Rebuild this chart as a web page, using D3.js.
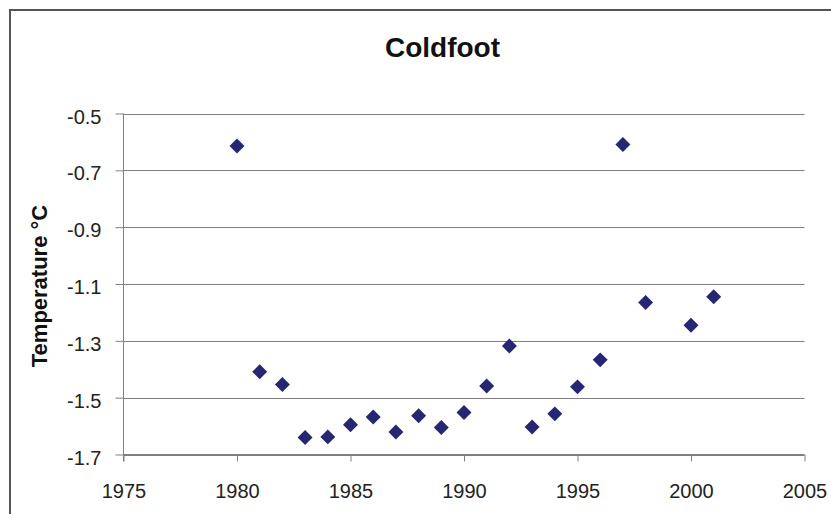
<!DOCTYPE html>
<html>
<head>
<meta charset="utf-8">
<script src="https://cdn.jsdelivr.net/npm/d3@7/dist/d3.min.js"></script>
<style>
  html, body { margin: 0; padding: 0; background: #fff; }
  svg { display: block; font-family: "Liberation Sans", Arial, sans-serif; }
</style>
</head>
<body>
<svg id="chart" width="831" height="514"></svg>
<script>
// Coldfoot annual mean temperature (°C)
const years = [1980, 1981, 1982, 1983, 1984, 1985, 1986, 1987, 1988, 1989, 1990,
               1991, 1992, 1993, 1994, 1995, 1996, 1997, 1998, 2000, 2001];
const temps = [-0.614, -1.409, -1.454, -1.640, -1.638, -1.595, -1.568, -1.621, -1.564, -1.605, -1.552,
               -1.459, -1.318, -1.603, -1.557, -1.462, -1.367, -0.609, -1.165, -1.245, -1.145];
const xTicks = [1975, 1980, 1985, 1990, 1995, 2000, 2005];
const yTicks = [-0.5, -0.7, -0.9, -1.1, -1.3, -1.5, -1.7];

const svg = d3.select("#chart");
const plot = { left: 123.5, right: 804.5, top: 113.5, bottom: 454.5 };

const x = d3.scaleLinear().domain([1975, 2005]).range([plot.left, plot.right]);
const y = d3.scaleLinear().domain([-1.7, -0.5]).range([plot.bottom, plot.top]);

// plain hyphen for negative numbers
const fmtY = d => d.toFixed(1).replace("\u2212", "-");

// outer chart frame
svg.append("rect")
  .attr("x", 10).attr("y", 10)
  .attr("width", 840).attr("height", 520)
  .attr("fill", "none").attr("stroke", "#555").attr("stroke-width", 2);

// title
svg.append("text")
  .attr("x", 442.5).attr("y", 57)
  .attr("text-anchor", "middle")
  .attr("font-size", 28).attr("font-weight", "bold")
  .attr("fill", "#111")
  .text("Coldfoot");

// horizontal gridlines
svg.append("g")
  .selectAll("line")
  .data(yTicks)
  .join("line")
  .attr("x1", plot.left).attr("x2", plot.right)
  .attr("y1", d => Math.round(y(d)) + 0.5).attr("y2", d => Math.round(y(d)) + 0.5)
  .attr("stroke", "#808080").attr("stroke-width", 1);

// y axis: ticks cross the axis line
const yAxis = svg.append("g")
  .attr("transform", `translate(${plot.left},0)`)
  .call(d3.axisLeft(y).tickValues(yTicks).tickSize(8).tickPadding(14).tickFormat(fmtY));
yAxis.select(".domain").attr("stroke", "#808080").attr("d", `M0,${plot.top}V${plot.bottom + 7}`);
yAxis.selectAll(".tick line").attr("stroke", "#808080");
yAxis.selectAll(".tick text")
  .attr("font-size", 20).attr("fill", "#222")
  .attr("font-family", "Liberation Sans, Arial, sans-serif")
  .attr("dy", "0.48em");

// x axis
const xAxis = svg.append("g")
  .attr("transform", `translate(0,${plot.bottom})`)
  .call(d3.axisBottom(x).tickValues(xTicks).tickSize(7).tickPadding(22)
        .tickFormat(d3.format("d")));
xAxis.select(".domain").attr("stroke", "#808080").attr("d", `M${plot.left},0H${plot.right}`);
xAxis.selectAll(".tick line").attr("stroke", "#808080");
xAxis.selectAll(".tick text")
  .attr("font-size", 20).attr("fill", "#222")
  .attr("font-family", "Liberation Sans, Arial, sans-serif");

// y axis title
svg.append("text")
  .attr("transform", "translate(47,286) rotate(-90)")
  .attr("text-anchor", "middle")
  .attr("font-size", 22).attr("font-weight", "bold")
  .attr("fill", "#111")
  .text("Temperature °C");

// diamond markers
const diamond = d3.symbol().type(d3.symbolSquare).size(112);
svg.append("g")
  .selectAll("path")
  .data(years.map((yr, i) => ({ yr, t: temps[i] })))
  .join("path")
  .attr("d", diamond)
  .attr("transform", d => `translate(${x(d.yr)},${y(d.t)}) rotate(45)`)
  .attr("fill", "#262673");
</script>
</body>
</html>
